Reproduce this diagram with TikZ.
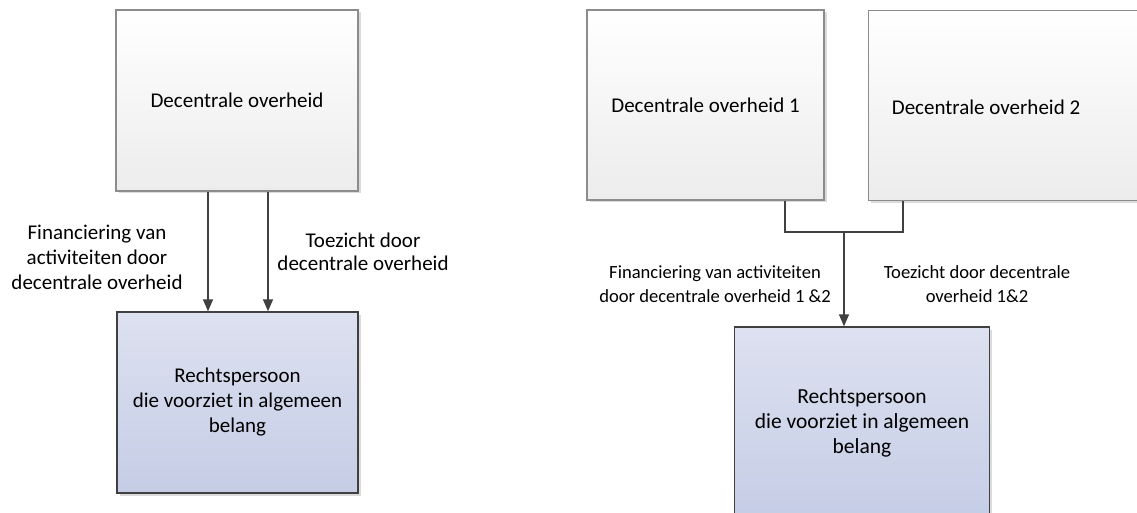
\documentclass[tikz,border=0pt]{standalone}
\usepackage{fontspec}
\setmainfont{Carlito}
\usetikzlibrary{arrows.meta,shadows}
\definecolor{topbot}{RGB}{236,236,236}
\definecolor{botTop}{RGB}{221,225,240}
\definecolor{botBot}{RGB}{197,205,230}
\definecolor{edgeA}{RGB}{140,140,140}
\definecolor{edgeB}{RGB}{64,64,64}
\definecolor{arrowc}{RGB}{64,64,64}
\tikzset{
  topbox/.style={draw=edgeA, line width=1.4pt, top color=white, bottom color=topbot,
    inner sep=0pt, align=center, font=\fontsize{21}{24}\selectfont,
    drop shadow={shadow xshift=2.5pt, shadow yshift=-2.5pt, fill=black!14, opacity=1}},
  botbox/.style={draw=edgeB, line width=1.4pt, top color=botTop, bottom color=botBot,
    inner sep=0pt, align=center, font=\fontsize{21}{25}\selectfont,
    drop shadow={shadow xshift=2.5pt, shadow yshift=-2.5pt, fill=black!14, opacity=1}},
  lbl/.style={align=center, inner sep=0pt},
  conn/.style={draw=arrowc, line width=1.5pt},
  arr/.style={conn, -{Triangle[width=10pt,length=12pt]}}
}
\begin{document}
\begin{tikzpicture}[x=1pt,y=-1pt]
\useasboundingbox (0,0) rectangle (1137,513);
\fill[white] (0,0) rectangle (1137,513);
\begin{scope}
\clip (0,0) rectangle (1137,513);
% left diagram
\node[topbox, minimum width=242, minimum height=181] (lt) at (237,100.5) {Decentrale overheid};
\node[botbox, minimum width=241, minimum height=181] (lb) at (237.5,402.5) {Rechtspersoon\\die voorziet in algemeen\\belang};
\draw[arr] (lt.south -| 208,0) -- (lb.north -| 208,0);
\draw[arr] (lt.south -| 268,0) -- (lb.north -| 268,0);
\node[lbl, font=\fontsize{21}{25}\selectfont] (lf) at (97,257) {Financiering van\\activiteiten door\\decentrale overheid};
\node[lbl, font=\fontsize{21}{23}\selectfont] (lt2) at (363,252) {Toezicht door\\decentrale overheid};
% right diagram
\node[topbox, minimum width=237, minimum height=190] (r1) at (705.5,105) {Decentrale overheid 1};
\node[topbox, minimum width=290, minimum height=190, anchor=north west] (r2) at (868,10) {};
\node[lbl, font=\fontsize{21}{24}\selectfont] (r2t) at (986,107) {Decentrale overheid 2};
\node[botbox, font=\fontsize{21.5}{25}\selectfont, minimum width=255, minimum height=192] (rb) at (862,423) {Rechtspersoon\\die voorziet in algemeen\\belang};
\coordinate (j) at (844,232);
\draw[conn] (r1.south -| 785,0) |- (j) -| (r2.south -| 903,0);
\draw[arr] (j) -- (j |- rb.north);
\node[lbl, font=\fontsize{18.6}{23.5}\selectfont] (rf) at (715,284) {Financiering van activiteiten\\door decentrale overheid 1 \&2};
\node[lbl, font=\fontsize{18.6}{23.5}\selectfont] (rt) at (977,284) {Toezicht door decentrale\\overheid 1\&2};
\end{scope}
\end{tikzpicture}
\end{document}
